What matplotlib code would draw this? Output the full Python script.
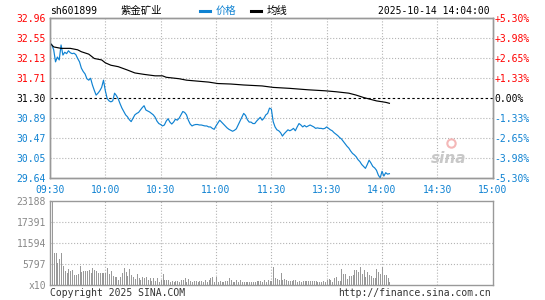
import matplotlib
matplotlib.use('Agg')
import matplotlib.pyplot as plt

# 画布 545x300 像素
W, H = 545, 300
def fx(x):
    return x / W
def fy(y):
    return 1 - y / H

# 数据
prev_close = 31.30
price = [32.44, 32.40, 32.30, 32.05, 32.15, 32.09, 32.40, 32.19, 32.25, 32.22,
         32.28, 32.24, 32.22, 32.23, 32.20, 32.12, 32.05, 31.92, 31.85, 31.80,
         31.70, 31.67, 31.71, 31.57, 31.46, 31.36, 31.40, 31.45, 31.52, 31.67,
         31.45, 31.29, 31.24, 31.22, 31.24, 31.40, 31.35, 31.28, 31.18, 31.09,
         31.02, 30.95, 30.91, 30.85, 30.81, 30.88, 30.95, 30.98, 31.00, 31.05,
         31.10, 31.14, 31.05, 31.03, 31.01, 30.98, 30.95, 30.90, 30.82, 30.77,
         30.75, 30.72, 30.74, 30.82, 30.87, 30.80, 30.76, 30.80, 30.86, 30.84,
         30.88, 30.95, 31.02, 31.00, 30.95, 30.84, 30.76, 30.72, 30.74, 30.75,
         30.75, 30.74, 30.74, 30.73, 30.72, 30.72, 30.70, 30.70, 30.67, 30.65,
         30.72, 30.78, 30.84, 30.80, 30.76, 30.72, 30.68, 30.65, 30.63, 30.61,
         30.63, 30.66, 30.74, 30.82, 30.90, 30.98, 30.94, 30.85, 30.80, 30.80,
         30.77, 30.77, 30.82, 30.86, 30.90, 30.84, 30.88, 30.95, 30.98, 31.09,
         31.07, 30.81, 30.70, 30.64, 30.62, 30.58, 30.51, 30.56, 30.60, 30.64,
         30.62, 30.64, 30.67, 30.62, 30.70, 30.77, 30.74, 30.70, 30.73, 30.70,
         30.72, 30.74, 30.72, 30.70, 30.67, 30.68, 30.67, 30.67, 30.66, 30.67,
         30.70, 30.67, 30.64, 30.62, 30.58, 30.55, 30.52, 30.48, 30.45, 30.40,
         30.35, 30.30, 30.26, 30.20, 30.15, 30.12, 30.08, 30.02, 29.98, 29.92,
         29.88, 29.84, 29.92, 30.01, 29.95, 29.88, 29.85, 29.80, 29.70, 29.64,
         29.78, 29.68, 29.75, 29.72, 29.73]

avg_min = [0, 2, 6, 11, 15, 17, 21, 24, 28, 30, 33, 37, 42, 46, 51, 57, 61,
           63, 70, 74, 80, 86, 91, 98, 105, 115, 121, 130, 140, 149, 155,
           162, 166, 170, 173, 177, 182, 184]
avg_val = [32.44, 32.36, 32.33, 32.33, 32.30, 32.26, 32.21, 32.12, 32.09, 32.03,
           31.98, 31.95, 31.88, 31.82, 31.79, 31.76, 31.76, 31.73, 31.70, 31.67,
           31.65, 31.63, 31.60, 31.59, 31.57, 31.55, 31.52, 31.50, 31.47, 31.45,
           31.43, 31.40, 31.36, 31.31, 31.28, 31.24, 31.21, 31.19]

volume = [8700, 23188, 8900, 8900, 6200, 7100, 8900, 5200, 4000, 3400,
          4400, 4000, 4100, 2800, 2800, 3000, 5200, 3700, 4000, 4000,
          4000, 4100, 3400, 4600, 4100, 3900, 3400, 3400, 3400, 3400,
          3400, 4600, 3000, 4000, 2500, 2100, 2300, 1400, 2100, 3400,
          4600, 3700, 2500, 4400, 2800, 2300, 1600, 3000, 1800, 1400,
          2100, 1800, 2100, 1500, 1800, 1200, 1800, 1100, 1800, 900,
          1500,
          3100, 1500, 1400, 1400, 700, 1200, 900, 1000, 1200, 900,
          1400, 1500, 1800, 900, 1600, 1200, 900, 1200, 1200, 900,
          1200, 1200, 700, 1400, 900, 1500, 1800, 2300, 900, 2300,
          900, 1200, 900, 900, 1200, 1200, 1800, 1300, 900, 900,
          1400, 900, 1400, 900, 900, 900, 900, 900, 700, 700,
          700, 1200, 1200, 1200, 700, 1400, 900, 1300, 1000, 1200,
          5060, 2000, 1600, 1400, 3200, 1400, 1700, 1400, 1200, 1100,
          1100, 1400, 1400, 900, 1200, 900, 1200, 1200, 1200, 1100,
          1200, 1200, 1200, 1200, 900, 900, 900, 1200, 900, 1500,
          1700, 1400, 900, 1800, 2300, 1200, 1200, 4400, 2900, 3000,
          1700, 2600, 2500, 2700, 4100, 4100, 3500, 5000, 3000, 4100,
          2300, 3500, 2800, 2500, 1900, 1800, 4500, 3700, 2900, 5000,
          2800, 2800, 1800, 700]

price_ticks = [29.64, 30.05, 30.47, 30.89, 31.30, 31.71, 32.13, 32.55, 32.96]
pct_labels = ['-5.30%', '-3.98%', '-2.65%', '-1.33%', '0.00%',
              '+1.33%', '+2.65%', '+3.98%', '+5.30%']
time_ticks = [0, 30, 60, 90, 120, 150, 180, 210, 240]
time_labels = ['09:30', '10:00', '10:30', '11:00', '11:30',
               '13:30', '14:00', '14:30', '15:00']
vol_ticks = [0, 5797, 11594, 17391, 23188]
vol_labels = ['x10', '5797', '11594', '17391', '23188']

RED = '#ff0000'
BLUE = '#0f82d2'
GRAY = '#999999'
GRID = '#b4b4b4'
MONO = 'DejaVu Sans Mono'
CJK = ['Noto Sans CJK SC', 'DejaVu Sans']
FS = 7

fig = plt.figure(figsize=(W / 100, H / 100), dpi=100)
fig.patch.set_facecolor('white')

# 价格区
ax = fig.add_axes([fx(50), fy(178), fx(492.7) - fx(50), (178 - 18) / H])
ax.set_xlim(0, 240)
ax.set_ylim(29.64, 32.96)
for t in time_ticks[1:-1]:
    ax.axvline(t, color=GRID, lw=0.8, ls=':', zorder=0)
for v in price_ticks[1:-1]:
    if v == prev_close:
        ax.axhline(v, color='black', lw=0.8, ls=(0, (2.2, 2.2)), zorder=1)
    else:
        ax.axhline(v, color=GRID, lw=0.8, ls=':', zorder=0)

ax.plot(range(len(price)), price, color=BLUE, lw=0.85, zorder=3)
ax.plot(avg_min, avg_val, color='black', lw=0.85, zorder=3)

ax.set_yticks(price_ticks)
ax.set_yticklabels(['%.2f' % v for v in price_ticks], fontfamily=MONO, fontsize=FS)
for lab, v in zip(ax.get_yticklabels(), price_ticks):
    lab.set_color(RED if v > prev_close else ('black' if v == prev_close else BLUE))
ax.set_xticks(time_ticks)
ax.set_xticklabels(time_labels, fontfamily=MONO, fontsize=FS, color=BLUE)
ax.tick_params(length=0, pad=3)
ax.tick_params(axis='x', pad=5)

ax2 = ax.twinx()
ax2.set_ylim(29.64, 32.96)
ax2.set_yticks(price_ticks)
ax2.set_yticklabels(pct_labels, fontfamily=MONO, fontsize=FS)
for lab, v in zip(ax2.get_yticklabels(), price_ticks):
    lab.set_color(RED if v > prev_close else ('black' if v == prev_close else BLUE))
ax2.tick_params(length=0, pad=1.5)

for a in (ax, ax2):
    for s in a.spines.values():
        s.set_color(GRAY)
        s.set_linewidth(1.0)

# 新浪水印
ax.text(0.9, 0.12, 'sina', transform=ax.transAxes, fontsize=11, fontweight='bold',
        style='italic', color='#c8c8c8', ha='center', va='center', zorder=2)
ax.plot([0.905], [0.22], transform=ax.transAxes, marker='o', ms=6, mfc='none',
        mec='#f4b8b8', mew=1.5, zorder=2)

# 成交量区
axv = fig.add_axes([fx(50), fy(285), fx(492.7) - fx(50), (285 - 201) / H])
axv.set_xlim(0, 240)
axv.set_ylim(0, 23188)
for t in time_ticks[1:-1]:
    axv.axvline(t, color=GRID, lw=0.8, ls=':', zorder=0)
for v in vol_ticks[1:-1]:
    axv.axhline(v, color=GRID, lw=0.8, ls=':', zorder=0)
axv.vlines(range(len(volume)), 0, volume, colors='#999999', lw=0.5,
           antialiased=False, zorder=2)
axv.set_xticks([])
axv.set_yticks(vol_ticks)
axv.set_yticklabels(vol_labels, fontfamily=MONO, fontsize=FS, color='#888888')
axv.tick_params(length=0, pad=3)
for s in axv.spines.values():
    s.set_color(GRAY)
    s.set_linewidth(1.0)

# 标题与图例
fig.text(fx(50), fy(11), 'sh601899', fontfamily=MONO, fontsize=FS, va='center', ha='left')
fig.text(fx(121), fy(11), '紫金矿业', family=CJK, fontsize=7.5, va='center', ha='left')
fig.lines.append(plt.Line2D([fx(200), fx(209.5)], [fy(10.5), fy(10.5)],
                            transform=fig.transFigure, color=BLUE, lw=2.2))
fig.text(fx(216), fy(11), '价格', family=CJK, fontsize=7.5, color=BLUE, va='center', ha='left')
fig.lines.append(plt.Line2D([fx(251), fx(260.5)], [fy(10.5), fy(10.5)],
                            transform=fig.transFigure, color='black', lw=2.2))
fig.text(fx(267), fy(11), '均线', family=CJK, fontsize=7.5, va='center', ha='left')
fig.text(fx(490), fy(11), '2025-10-14 14:04:00', fontfamily=MONO, fontsize=FS,
         va='center', ha='right')

# 底部版权
fig.text(fx(50), fy(293), 'Copyright 2025 SINA.COM', fontfamily=MONO, fontsize=FS,
         color='#333333', va='center', ha='left')
fig.text(fx(491), fy(293), 'http://finance.sina.com.cn', fontfamily=MONO, fontsize=FS,
         color='#333333', va='center', ha='right')

fig.savefig('out.png', dpi=100)
